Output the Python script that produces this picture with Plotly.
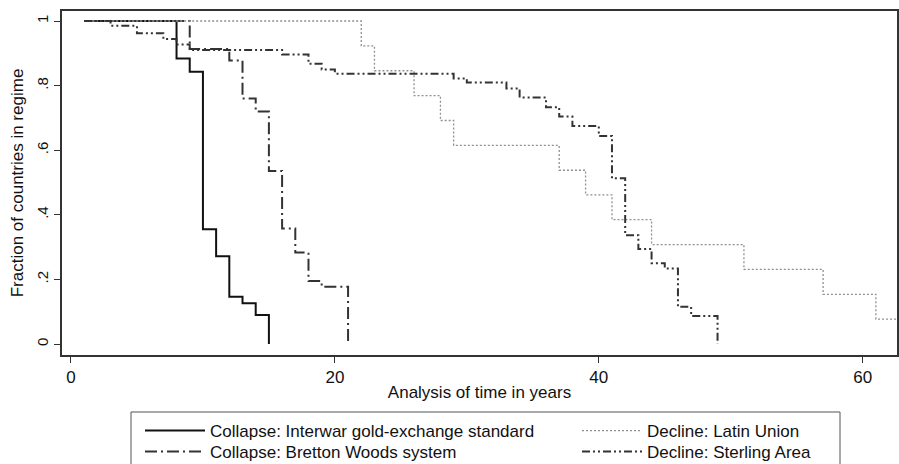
import plotly.graph_objects as go

# ---- data ----
interwar_t = [1, 8, 9, 10, 11, 12, 13, 14, 15, 15]
interwar_s = [1.0, 0.884, 0.843, 0.355, 0.272, 0.146, 0.126, 0.09, 0.0, 0.0]

bretton_t = [1, 9, 12, 13, 14, 15, 16, 17, 18, 19, 21, 21]
bretton_s = [1.0, 0.913, 0.878, 0.76, 0.72, 0.536, 0.358, 0.283, 0.195, 0.177, 0.0, 0.0]

latin_t = [1, 22, 23, 26, 28, 29, 37, 39, 41, 44, 51, 57, 61, 63]
latin_s = [1.0, 0.923, 0.846, 0.769, 0.692, 0.615, 0.538, 0.462, 0.385, 0.308, 0.231, 0.154, 0.077, 0.077]

sterling_t = [1, 3, 5, 7, 8, 9, 16, 18, 19, 20, 29, 30, 33, 34, 36, 37, 38, 40, 41, 42, 43, 44, 45, 46, 47, 49, 49]
sterling_s = [1.0, 0.985, 0.962, 0.944, 0.927, 0.91, 0.896, 0.868, 0.85, 0.837, 0.822, 0.81, 0.791, 0.763,
              0.733, 0.704, 0.675, 0.644, 0.513, 0.337, 0.294, 0.25, 0.234, 0.115, 0.087, 0.0, 0.0]

x_ticks = [0, 20, 40, 60]
y_ticks = [0, 0.2, 0.4, 0.6, 0.8, 1]
y_ticklabels = ["0", ".2", ".4", ".6", ".8", "1"]

FONT = "Liberation Sans, Arial, sans-serif"

W, H = 899, 464
L, R, T, B = 62, 2, 11, 109
pw, ph = W - L - R, H - T - B


def px2x(px):
    return (px - L) / pw


def px2y(py):
    return (H - B - py) / ph


fig = go.Figure()

fig.add_trace(go.Scatter(x=interwar_t, y=interwar_s, mode="lines", line_shape="hv",
                         name="Collapse: Interwar gold-exchange standard",
                         line=dict(color="#111111", width=2, dash="solid"), legend="legend"))
fig.add_trace(go.Scatter(x=bretton_t, y=bretton_s, mode="lines", line_shape="hv",
                         name="Collapse: Bretton Woods system",
                         line=dict(color="#333333", width=2, dash="12px,4px,2px,4px"), legend="legend2"))
fig.add_trace(go.Scatter(x=latin_t, y=latin_s, mode="lines", line_shape="hv",
                         name="Decline: Latin Union",
                         line=dict(color="#909090", width=1.3, dash="2px,2px"), legend="legend3"))
fig.add_trace(go.Scatter(x=sterling_t, y=sterling_s, mode="lines", line_shape="hv",
                         name="Decline: Sterling Area",
                         line=dict(color="#333333", width=2, dash="8px,3px,2px,3px,2px,3px"), legend="legend4"))

fig.add_shape(type="rect", xref="paper", yref="paper",
              x0=px2x(131), x1=px2x(840), y0=px2y(412), y1=px2y(475),
              line=dict(color="#555555", width=1), fillcolor="rgba(0,0,0,0)")


def leg(xpx, ypx):
    return dict(x=px2x(xpx), y=px2y(ypx), xanchor="left", yanchor="top",
                bgcolor="rgba(0,0,0,0)", borderwidth=0, font=dict(size=17),
                itemwidth=60, tracegroupgap=0)


fig.update_layout(
    width=W, height=H,
    margin=dict(l=L, r=R, t=T, b=B, pad=0, autoexpand=False),
    paper_bgcolor="white", plot_bgcolor="white",
    font=dict(family=FONT, size=16, color="#111111"),
    showlegend=True,
    legend=leg(140, 413),
    legend2=leg(140, 434),
    legend3=leg(577, 413),
    legend4=leg(577, 434),
    xaxis=dict(range=[-0.68, 62.6], tickvals=x_ticks, ticks="outside", ticklen=6,
               tickcolor="#333333", showgrid=False, zeroline=False, showline=True,
               linecolor="#333333", linewidth=1.5, mirror=True, automargin=False,
               title=dict(text="Analysis of time in years", standoff=0, font=dict(size=17)),
               tickfont=dict(size=17)),
    yaxis=dict(range=[-0.034, 1.031], tickvals=y_ticks, ticktext=y_ticklabels,
               ticks="outside", ticklen=6, tickcolor="#333333", tickangle=-90,
               showgrid=False, zeroline=False, showline=True, automargin=False,
               linecolor="#333333", linewidth=1.5, mirror=True,
               title=dict(text="Fraction of countries in regime", standoff=6, font=dict(size=17)),
               tickfont=dict(size=15)),
)

fig.write_html("out.html", config={"displayModeBar": False},
               post_script="document.body.style.margin='0px';document.body.style.overflow='hidden';")
